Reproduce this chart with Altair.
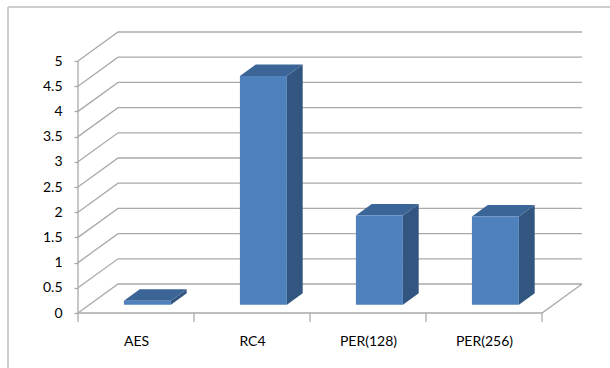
import altair as alt
import pandas as pd

categories = ["AES", "RC4", "PER(128)", "PER(256)"]
values = [0.08, 4.54, 1.77, 1.75]
y_ticks = [0, 0.5, 1, 1.5, 2, 2.5, 3, 3.5, 4, 4.5, 5]

# ---- 3D geometry (style only) ----
N = len(categories)
DX = 0.345      # depth offset, category units
DY = 0.575      # depth offset, value units
BAR_W = 0.405   # bar width, category units
F_FRONT = 0.285 # depth fraction of bar front face
F_BACK = 0.68   # depth fraction of bar back face

W, H = 505, 282
xs = alt.Scale(domain=[0, W / 116.0], nice=False, zero=False)
ys = alt.Scale(domain=[0, H / 50.4], nice=False, zero=False)

GRID = "#A9A9A9"
label_expr = "[" + ",".join("'%s'" % c for c in categories) + "][floor(datum.value)]"
AX = alt.Axis(values=[i + 0.5 for i in range(N)], labelExpr=label_expr, title=None,
              ticks=False, domain=False, grid=False, labelPadding=21,
              labelFont="Lato", labelFontSize=14, labelColor="#000")
AY = alt.Axis(values=y_ticks, format=".1~f", title=None, domain=False, grid=False,
              tickSize=4, tickColor=GRID, tickWidth=1.3, labelPadding=12,
              labelFont="Lato", labelFontSize=14, labelColor="#000")

# grid polylines: left wall diagonal + back wall line
grid_rows = []
for k, v in enumerate(y_ticks):
    for o, (x, y) in enumerate([(0, v), (DX, v + DY), (N + DX, v + DY)]):
        grid_rows.append(dict(line=k, o=o, px=x, py=y))
for o, (x, y) in enumerate([(0, 0), (N, 0), (N + DX, DY)]):
    grid_rows.append(dict(line=-1, o=o, px=x, py=y))
# front vertical axis line
for o, y in enumerate([0, y_ticks[-1]]):
    grid_rows.append(dict(line=-2, o=o, px=0, py=y))
grid_df = pd.DataFrame(grid_rows)

front_rows, side_rows, top_rows = [], [], []
for i, (c, v) in enumerate(zip(categories, values)):
    xl = i + 0.5 - BAR_W / 2
    xr = i + 0.5 + BAR_W / 2
    front_rows.append(dict(cat=c, px=xl + F_FRONT * DX, px2=xr + F_FRONT * DX,
                           py=F_FRONT * DY, py2=v + F_FRONT * DY))
    for f in (F_FRONT, F_BACK):
        side_rows.append(dict(cat=c, px=xr + f * DX, py=f * DY, py2=v + f * DY))
        top_rows.append(dict(cat=c, py=v + f * DY, px=xl + f * DX, px2=xr + f * DX))
front_df = pd.DataFrame(front_rows)
side_df = pd.DataFrame(side_rows)
top_df = pd.DataFrame(top_rows)

tick_df = pd.DataFrame({"px": list(range(N + 1))})
one = pd.DataFrame({"a": [0]})

X = alt.X("px:Q", scale=xs, axis=AX)
Y = alt.Y("py:Q", scale=ys, axis=AY)

grid = alt.Chart(grid_df).mark_line(color=GRID, strokeWidth=1.3).encode(
    x=X, y=Y, detail="line:N", order="o:Q",
)

xticks = alt.Chart(tick_df).mark_rule(color=GRID, strokeWidth=1.3).encode(
    x=X, y=alt.value(H), y2=alt.value(H + 9),
)

side = alt.Chart(side_df).mark_area(color="#335680", opacity=1).encode(
    x=X, y=Y, y2="py2:Q", detail="cat:N",
)

top = alt.Chart(top_df).mark_area(orient="horizontal", color="#3B6497", opacity=1).encode(
    y=Y, x=X, x2="px2:Q", detail="cat:N",
)

front = alt.Chart(front_df).mark_rect(color="#4F81BD").encode(
    x=X, x2="px2:Q", y=Y, y2="py2:Q",
)

frame_top = alt.Chart(one).mark_rule(color="#BDBDBD", strokeWidth=1.5).encode(
    x=alt.value(-70), x2=alt.value(W + 40), y=alt.value(-24))
frame_left = alt.Chart(one).mark_rule(color="#BDBDBD", strokeWidth=1.5).encode(
    x=alt.value(-70), y=alt.value(-24), y2=alt.value(H + 60))

chart = alt.layer(
    grid, xticks, side, top, front, frame_top, frame_left
).properties(
    width=W, height=H,
    autosize=alt.AutoSizeParams(type="none"),
    padding={"left": 78, "top": 31, "right": 27, "bottom": 55},
    background="white",
).configure_view(stroke=None)

chart.save("out.html", embed_options={"renderer": "svg", "actions": False})
